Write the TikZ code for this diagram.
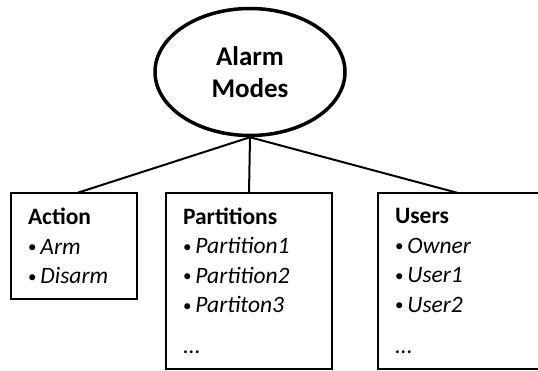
\documentclass[tikz,border=0pt]{standalone}
\usepackage{fontspec}
\setmainfont{Carlito}
\usetikzlibrary{positioning,shapes.geometric}
\newcommand{\itemdot}{\raisebox{1.5pt}{\fontsize{17}{17}\selectfont\textbullet}\kern4pt}

\begin{document}
\begin{tikzpicture}[
    x=1pt, y=-1pt,
    mode/.style={
        ellipse,
        draw,
        line width=3.5pt,
        minimum width=190pt,
        minimum height=127pt,
        inner sep=0pt,
        align=center,
        font=\fontsize{27}{32}\selectfont\bfseries
    },
    groupbox/.style={
        draw,
        line width=2pt,
        outer sep=0pt,
        align=left,
        inner xsep=17pt,
        inner ysep=0pt,
        font=\fontsize{23.5}{29.5}\selectfont
    },
    branch/.style={line width=2pt}
]
\useasboundingbox (0,0) rectangle (538,371);

\node[mode] (modes) at (250,72) {Alarm\\Modes};

\node[groupbox, anchor=north west, text width=132pt, minimum height=176pt] (parts) at (166,193)
    {\textbf{Partitions}\\
     \itemdot\textit{Partition1}\\
     \itemdot\textit{Partition2}\\
     \itemdot\textit{Partiton3}\\[11.5pt]
     \textit{...}};
\node[groupbox, left=29pt of parts.north west, anchor=north east, text width=92pt, minimum height=106pt] (act)
    {\textbf{Action}\\
     \itemdot\textit{Arm}\\
     \itemdot\textit{Disarm}};
\node[groupbox, right=46pt of parts.north east, anchor=north west, text width=136pt, minimum height=176pt] (users)
    {\textbf{Users}\\
     \itemdot\textit{Owner}\\
     \itemdot\textit{User1}\\
     \itemdot\textit{User2}\\[11.5pt]
     \textit{...}};

\draw[branch] (modes.south) -- ([xshift=3pt]act.north);
\draw[branch] (modes.south) -- (parts.north);
\draw[branch] (modes.south) -- ([xshift=-5pt]users.north);
\end{tikzpicture}
\end{document}
